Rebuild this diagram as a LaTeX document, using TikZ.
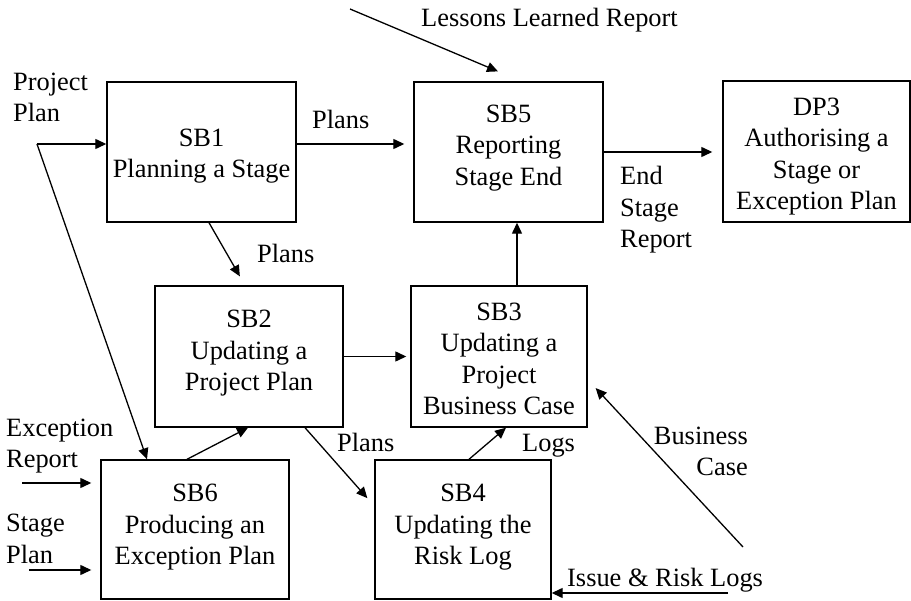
\documentclass[tikz,border=0pt]{standalone}
\usepackage{fontspec}
\setmainfont{Liberation Serif}
\usetikzlibrary{arrows.meta}
\begin{document}
\begin{tikzpicture}[x=1pt,y=-1pt,
  every node/.style={font=\fontsize{26.4}{31.5}\selectfont},
  procbox/.style={draw, line width=1.4pt, inner sep=0pt},
  boxtext/.style={align=center, inner sep=0pt},
  lbl/.style={inner sep=0pt, anchor=base west, align=left},
  rlbl/.style={inner sep=0pt, anchor=base east, align=right},
  flow/.style={line width=1.3pt, -{Triangle[length=11pt,width=10pt]}}]
\useasboundingbox (0,0) rectangle (911,601);

% process boxes
\node[procbox, minimum width=189pt, minimum height=140pt] (sb1) at (201.5,152) {};
\node[procbox, minimum width=189pt, minimum height=140pt] (sb5) at (508.5,152) {};
\node[procbox, minimum width=187pt, minimum height=141pt] (dp3) at (816.5,151.5) {};
\node[procbox, minimum width=188pt, minimum height=141pt] (sb2) at (249,356.5) {};
\node[procbox, minimum width=176pt, minimum height=141pt] (sb3) at (499,356.5) {};
\node[procbox, minimum width=188pt, minimum height=139pt] (sb6) at (195,529.5) {};
\node[procbox, minimum width=176pt, minimum height=139pt] (sb4) at (463,529.5) {};

% box captions
\node[boxtext] (sb1t) at (201.5,156) {SB1\\Planning a Stage};
\node[boxtext] (sb5t) at (508.5,148) {SB5\\Reporting\\Stage End};
\node[boxtext] (dp3t) at (816.5,156.5) {DP3\\Authorising a\\Stage or\\Exception Plan};
\node[boxtext] (sb2t) at (249,353.5) {SB2\\Updating a\\Project Plan};
\node[boxtext] (sb3t) at (499,359) {SB3\\Updating a\\Project\\Business Case};
\node[boxtext] (sb6t) at (195,527.5) {SB6\\Producing an\\Exception Plan};
\node[boxtext] (sb4t) at (463,527.5) {SB4\\Updating the\\Risk Log};

% free ends of the external flows
\coordinate (pp) at (37,144);
\coordinate (ll) at (350,9);
\coordinate (er) at (22,483);
\coordinate (sp) at (29,570);
\coordinate (bc) at (743,547);
\coordinate (irl) at (728,593);

% attachment points on the boxes
\coordinate (p1) at ([yshift=8pt]sb1.east);
\coordinate (sb3top) at ([xshift=18pt]sb3.north);

% flows
\draw[flow] (pp) -- (pp -| sb1.west);
\draw[flow] (pp) -- ([xshift=-48pt]sb6.north);
\draw[flow, shorten >=9pt] (p1) -- (p1 -| sb5.west);
\draw[flow, shorten >=10.3pt] ([xshift=7.5pt]sb1.south) -- ([xshift=-4pt]sb2.north);
\draw[flow, shorten >=25.5pt] (ll) -- ([xshift=13pt]sb5.north);
\draw[flow, shorten >=10pt] (sb5.east) -- (sb5.east -| dp3.west);
\draw[flow] (sb3top) -- (sb3top |- sb5.south);
\draw[flow, shorten >=4pt] (sb2.east) -- (sb3.west);
\draw[flow] ([xshift=-8pt]sb6.north) -- ([xshift=-1pt]sb2.south);
\draw[flow, shorten >=10.5pt] ([xshift=56pt]sb2.south) -- ([yshift=23.5pt]sb4.west);
\draw[flow] ([xshift=6pt]sb4.north) -- ([xshift=7pt]sb3.south);
\draw[flow, shorten >=11.7pt] (bc) -- ([yshift=-23pt]sb3.east);
\draw[flow] (irl) -- (irl -| sb4.east);
\draw[flow, shorten >=9pt] (er) -- (er -| sb6.west);
\draw[flow, shorten >=9pt] (sp) -- (sp -| sb6.west);

% flow labels (multi-line labels sit on the baseline of their last line)
\node[lbl] (tpp) at (13,122) {Project\\Plan};
\node[lbl] (tpl1) at (312,129) {Plans};
\node[lbl] (tpl2) at (257,263) {Plans};
\node[lbl] (tll) at (421,27) {Lessons Learned Report};
\node[lbl] (tesr) at (620,248) {End\\Stage\\Report};
\node[lbl] (ter) at (6,468) {Exception\\Report};
\node[lbl] (tsp) at (6,563) {Stage\\Plan};
\node[lbl] (tpl3) at (337,452) {Plans};
\node[lbl] (tlogs) at (522,452) {Logs};
\node[rlbl] (tbc) at (748,476) {Business\\Case};
\node[lbl] (tirl) at (567,586) {Issue \& Risk Logs};
\end{tikzpicture}
\end{document}
